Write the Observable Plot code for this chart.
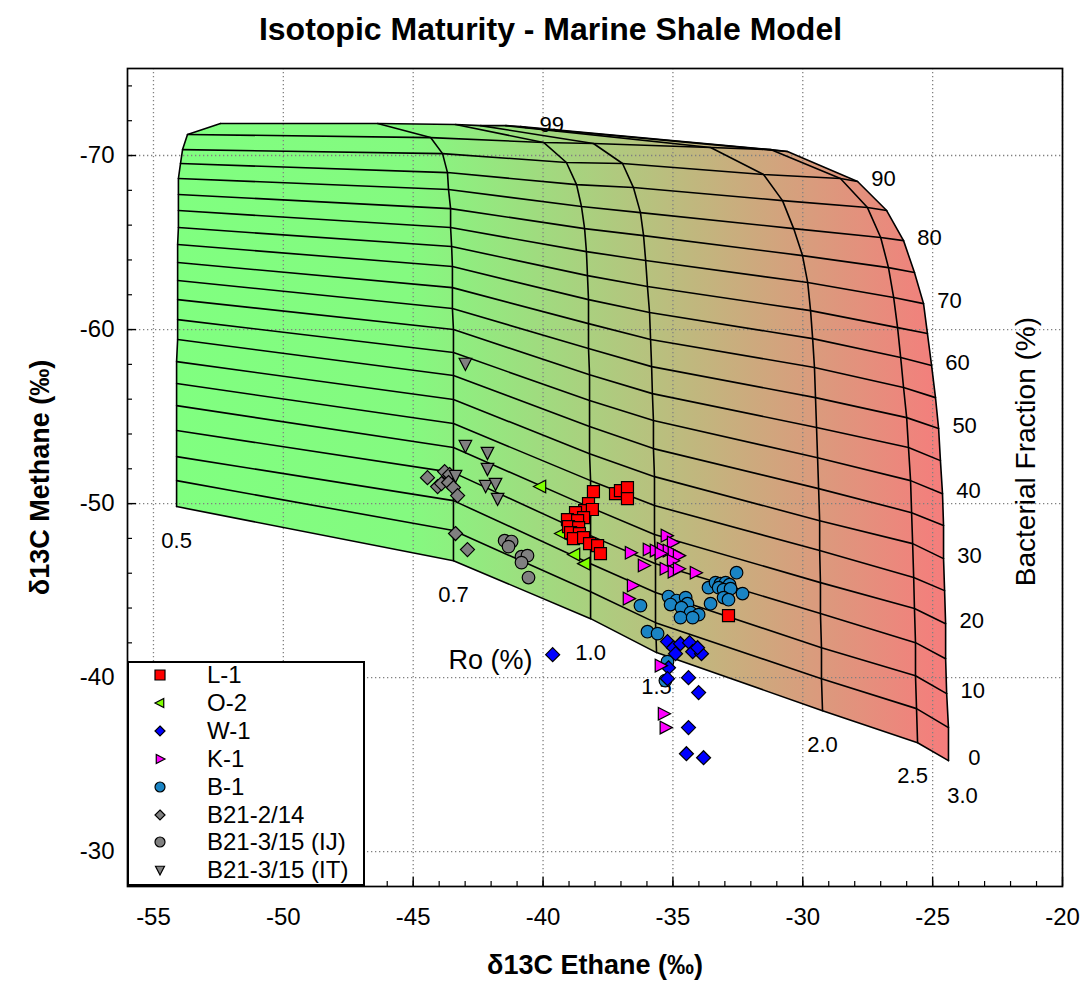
<!DOCTYPE html>
<html><head><meta charset="utf-8">
<script src="https://cdn.jsdelivr.net/npm/d3@7"></script>
<script src="https://cdn.jsdelivr.net/npm/@observablehq/plot@0.6"></script>
<style>
body{margin:0;background:#fff;font-family:Arial,"Liberation Sans",Helvetica,sans-serif;color:#000;}
#wrap{position:relative;width:1087px;height:981px;}
#title{height:56px;line-height:58px;text-align:center;font-weight:bold;font-size:32px;padding-left:14px;box-sizing:border-box;}
#legend{position:absolute;left:127px;top:661px;width:238px;height:225px;box-sizing:border-box;border:2px solid #000;background:#fff;}
.row{position:absolute;left:0;height:28px;display:flex;align-items:center;font-size:24px;white-space:nowrap;}
.row svg{flex:none;}
</style></head><body>
<div id="wrap">
<div id="title">Isotopic Maturity - Marine Shale Model</div>
<div id="chart"></div>
<div id="legend"></div>
</div>
<script>
// ---------- model grid (Ro curves x bacterial fraction) ----------
const fractions = [0,5,10,15,20,25,30,35,40,45,50,55,60,65,70,75,80,85,90,95,99];
const roLevels = [0.5,0.7,1.0,1.5,2.0,2.5,3.0];
const fractionLabels = [0,10,20,30,40,50,60,70,80,90,99];

const ethaneRo05 = [-54.11,-54.11,-54.11,-54.11,-54.11,-54.11,-54.11,-54.07,-54.07,-54.07,-54.07,-54.07,-54.07,-54.04,-54.04,-54.04,-54.04,-53.96,-53.88,-53.69,-52.42];
const methaneRo05 = [-49.83,-51.32,-52.70,-54.20,-55.63,-56.90,-58.16,-59.43,-60.57,-61.72,-62.82,-63.85,-64.89,-65.86,-66.84,-67.76,-68.68,-69.54,-70.34,-71.21,-71.84];
const ethaneRo07 = [-43.45,-43.45,-43.45,-43.45,-43.45,-43.45,-43.45,-43.45,-43.45,-43.45,-43.49,-43.49,-43.49,-43.52,-43.56,-43.56,-43.64,-43.68,-43.87,-44.33,-46.37];
const methaneRo07 = [-46.72,-48.45,-50.17,-51.78,-53.22,-54.60,-55.98,-57.36,-58.68,-60.00,-61.21,-62.41,-63.62,-64.77,-65.86,-66.95,-68.05,-69.02,-70.11,-71.03,-71.84];
const ethaneRo10 = [-38.17,-38.17,-38.17,-38.17,-38.17,-38.17,-38.21,-38.21,-38.21,-38.21,-38.25,-38.25,-38.25,-38.29,-38.33,-38.40,-38.52,-38.71,-39.10,-39.98,-43.37];
const methaneRo10 = [-43.39,-44.94,-46.55,-48.16,-49.77,-51.32,-52.87,-54.43,-55.92,-57.41,-58.91,-60.34,-61.72,-63.10,-64.48,-65.80,-67.07,-68.33,-69.60,-70.75,-71.78];
const ethaneRo15 = [-35.63,-35.67,-35.67,-35.67,-35.71,-35.71,-35.71,-35.75,-35.75,-35.79,-35.82,-35.86,-35.90,-35.98,-36.05,-36.13,-36.25,-36.52,-36.94,-38.06,-42.41];
const methaneRo15 = [-41.44,-43.16,-44.89,-46.55,-48.22,-49.89,-51.55,-53.16,-54.77,-56.32,-57.87,-59.43,-60.98,-62.47,-63.97,-65.40,-66.72,-68.16,-69.54,-70.69,-71.72];
const ethaneRo20 = [-29.24,-29.28,-29.28,-29.32,-29.32,-29.35,-29.35,-29.39,-29.43,-29.47,-29.51,-29.55,-29.62,-29.70,-29.81,-30.01,-30.35,-30.78,-31.51,-33.55,-41.44];
const methaneRo20 = [-38.10,-39.94,-41.72,-43.68,-45.46,-47.30,-49.02,-50.86,-52.64,-54.37,-56.09,-57.82,-59.48,-61.09,-62.70,-64.25,-65.80,-67.41,-68.91,-70.46,-71.72];
const ethaneRo25 = [-25.58,-25.62,-25.66,-25.66,-25.70,-25.73,-25.77,-25.81,-25.85,-25.93,-26.00,-26.12,-26.23,-26.35,-26.50,-26.70,-27.00,-27.51,-28.55,-31.24,-40.87];
const methaneRo25 = [-36.26,-38.22,-40.11,-42.01,-43.97,-45.75,-47.70,-49.48,-51.32,-53.22,-54.94,-56.67,-58.39,-60.11,-61.84,-63.56,-65.29,-67.01,-68.68,-70.34,-71.67];
const ethaneRo30 = [-24.39,-24.39,-24.46,-24.50,-24.50,-24.54,-24.58,-24.58,-24.62,-24.70,-24.77,-24.89,-25.04,-25.20,-25.35,-25.70,-26.12,-26.77,-27.89,-30.59,-40.67];
const methaneRo30 = [-35.23,-37.13,-39.08,-41.09,-43.10,-45.00,-46.84,-48.74,-50.57,-52.47,-54.31,-56.09,-57.93,-59.77,-61.49,-63.28,-65.11,-66.84,-68.51,-70.23,-71.61];

// ---------- samples ----------
const l1Ethane = [-38.06,-38.25,-38.40,-38.10,-38.75,-38.44,-39.06,-38.67,-39.02,-38.63,-38.94,-38.60,-38.83,-38.44,-38.21,-37.90,-37.79,-37.21,-37.02,-36.75,-36.75,-32.86];
const l1Methane = [-50.69,-50.00,-49.60,-49.66,-49.48,-49.20,-49.08,-49.02,-48.68,-48.62,-48.33,-48.28,-47.99,-48.05,-47.70,-47.59,-47.13,-50.57,-50.75,-50.92,-50.29,-43.56];
const o2Ethane = [-40.10,-39.29,-38.79,-38.40];
const o2Methane = [-50.98,-48.28,-47.07,-46.55];
const w1Ethane = [-39.63,-35.21,-34.98,-34.71,-34.36,-34.90,-34.24,-33.90,-34.05,-35.17,-34.40,-34.01,-34.40,-34.48,-33.82,-35.21];
const w1Methane = [-41.32,-42.07,-41.72,-41.95,-42.01,-41.38,-41.49,-41.38,-41.72,-40.57,-40.00,-39.14,-37.13,-35.63,-35.40,-39.94];
const k1Ethane = [-35.25,-35.01,-36.63,-35.94,-35.67,-35.40,-35.17,-34.98,-34.78,-35.48,-35.01,-36.13,-35.29,-34.98,-34.78,-34.13,-36.55,-36.71,-35.48,-35.36,-35.29];
const k1Methane = [-48.16,-47.76,-47.18,-47.36,-47.30,-47.41,-47.30,-47.18,-47.01,-47.13,-46.72,-46.44,-46.26,-46.09,-46.26,-46.03,-45.29,-44.54,-40.69,-37.93,-37.13];
const b1Ethane = [-32.55,-33.63,-33.36,-33.17,-32.97,-32.82,-33.24,-33.05,-32.78,-32.32,-33.05,-32.86,-33.55,-35.17,-34.86,-34.51,-34.44,-35.09,-34.67,-34.32,-34.01,-34.71,-34.24,-36.25,-35.98,-35.59,-35.21,-35.29];
const b1Methane = [-46.03,-45.17,-45.46,-45.40,-45.46,-45.34,-45.17,-45.06,-45.11,-44.83,-44.60,-44.48,-44.25,-44.66,-44.43,-44.60,-44.25,-44.20,-44.02,-43.74,-43.62,-43.45,-43.45,-44.14,-42.64,-42.53,-40.92,-39.83];
const b21214Ethane = [-44.45,-44.06,-43.91,-43.79,-43.60,-43.64,-43.45,-43.29,-43.37,-42.91];
const b21214Methane = [-51.49,-50.98,-51.15,-51.84,-51.67,-51.21,-50.92,-50.46,-48.28,-47.36];
const b21315ijEthane = [-41.48,-41.21,-41.33,-40.83,-40.60,-40.83,-40.56];
const b21315ijMethane = [-47.87,-47.82,-47.53,-46.95,-47.01,-46.61,-45.75];
const b21315itEthane = [-42.99,-42.99,-42.14,-42.14,-43.37,-42.21,-41.83,-41.75];
const b21315itMethane = [-58.05,-53.33,-52.93,-52.01,-51.61,-51.03,-51.15,-50.29];

const seriesNames = ["L-1","O-2","W-1","K-1","B-1","B21-2/14","B21-3/15 (IJ)","B21-3/15 (IT)"];
const seriesColors = ["#ff0000","#80ff00","#0000ff","#ff00ff","#1a84c4","#808080","#808080","#808080"];
const seriesShapes = ["square","triangleLeft","diamond","triangleRight","circle","diamond","circle","triangleDown"];

const xTicks = [-55,-50,-45,-40,-35,-30,-25,-20];
const yTicks = [-70,-60,-50,-40,-30];
const annotEthane = [-42.02, -21.42];
const annotMethane = [-40.98, -52.99];

// ---------- assemble ----------
const roEthane = [ethaneRo05, ethaneRo07, ethaneRo10, ethaneRo15, ethaneRo20, ethaneRo25, ethaneRo30];
const roMethane = [methaneRo05, methaneRo07, methaneRo10, methaneRo15, methaneRo20, methaneRo25, methaneRo30];
const nodes = [];
roLevels.forEach((ro, j) => fractions.forEach((f, i) => nodes.push({ro, f, i, j, ethane: roEthane[j][i], methane: roMethane[j][i]})));
const lastRo = roLevels.length - 1, topIdx = fractions.length - 1;
const outline = [
  ...roLevels.map((_, j) => [roEthane[j][0], roMethane[j][0]]),
  ...fractions.map((_, i) => [roEthane[lastRo][i], roMethane[lastRo][i]]),
  ...roLevels.map((_, j) => [roEthane[lastRo - j][topIdx], roMethane[lastRo - j][topIdx]]),
  ...fractions.map((_, i) => [roEthane[0][topIdx - i], roMethane[0][topIdx - i]])
];

function shapePath(kind, ctx, r) {
  switch (kind) {
    case "square": ctx.rect(-r, -r, 2 * r, 2 * r); break;
    case "circle": ctx.moveTo(r, 0); ctx.arc(0, 0, r, 0, 2 * Math.PI); break;
    case "diamond": ctx.moveTo(0, -r); ctx.lineTo(r, 0); ctx.lineTo(0, r); ctx.lineTo(-r, 0); ctx.closePath(); break;
    case "triangleRight": ctx.moveTo(r, 0); ctx.lineTo(-0.75 * r, -0.9 * r); ctx.lineTo(-0.75 * r, 0.9 * r); ctx.closePath(); break;
    case "triangleLeft": ctx.moveTo(-r, 0); ctx.lineTo(0.75 * r, -0.9 * r); ctx.lineTo(0.75 * r, 0.9 * r); ctx.closePath(); break;
    case "triangleDown": ctx.moveTo(0, r); ctx.lineTo(-0.9 * r, -0.75 * r); ctx.lineTo(0.9 * r, -0.75 * r); ctx.closePath(); break;
  }
}
function makeSymbol(kind) {
  return {draw(ctx, size) { shapePath(kind, ctx, Math.sqrt(size / Math.PI)); }};
}
const symbolRadius = {square: 6, circle: 6.3, diamond: 7, triangleRight: 7, triangleLeft: 7, triangleDown: 7};

const seriesData = [
  [l1Ethane, l1Methane], [o2Ethane, o2Methane], [w1Ethane, w1Methane], [k1Ethane, k1Methane],
  [b1Ethane, b1Methane], [b21214Ethane, b21214Methane], [b21315ijEthane, b21315ijMethane], [b21315itEthane, b21315itMethane]
].map(([e, m]) => e.map((v, i) => ({ethane: v, methane: m[i]})));

const drawOrder = [5, 7, 6, 4, 1, 0, 2, 3];
const dotMarks = drawOrder.map(k => Plot.dot(seriesData[k], {
  x: "ethane", y: "methane", symbol: makeSymbol(seriesShapes[k]), r: symbolRadius[seriesShapes[k]],
  fill: seriesColors[k], stroke: "black", strokeWidth: 1.2
}));

const W = 1087, H = 925, mL = 127, mR = 25, mT = 12, mB = 95;
const plotW = W - mL - mR, plotH = H - mT - mB;
const xMinor = d3.range(-55, -20, 1);
const yMinor = d3.range(-74, -28, 2);
const roNodes = nodes.filter(d => d.i === 0);
const fracNodes = nodes.filter(d => d.j === lastRo && fractionLabels.includes(d.f));

const svg = Plot.plot({
  width: W, height: H, marginLeft: mL, marginRight: mR, marginTop: mT, marginBottom: mB,
  style: {fontFamily: 'Arial, "Liberation Sans", Helvetica, sans-serif', fontSize: "24px", color: "black", background: "white"},
  x: {domain: [-56, -20]},
  y: {domain: [-75, -28], reverse: true},
  marks: [
    Plot.line(outline, {x: d => d[0], y: d => d[1], fill: "url(#surfGrad)", stroke: "none"}),
    Plot.gridX(xTicks, {stroke: "#808080", strokeOpacity: 1, strokeWidth: 1.3, strokeDasharray: "1.3,2.7"}),
    Plot.gridY(yTicks, {stroke: "#808080", strokeOpacity: 1, strokeWidth: 1.3, strokeDasharray: "1.3,2.7"}),
    Plot.line(nodes, {x: "ethane", y: "methane", z: "ro", stroke: "black", strokeWidth: 1.6}),
    Plot.line(nodes, {x: "ethane", y: "methane", z: "f", stroke: "black", strokeWidth: 1.6}),
    Plot.text(fracNodes, {x: "ethane", y: "methane", text: d => String(d.f), dx: 26, dy: -3, fontSize: 22}),
    Plot.text(roNodes.filter(d => d.ro < 2.5), {x: "ethane", y: "methane", text: d => d.ro.toFixed(1), dy: 34, fontSize: 22}),
    Plot.text(roNodes.filter(d => d.ro === 2.5), {x: "ethane", y: "methane", text: d => d.ro.toFixed(1), dx: -5, dy: 33, fontSize: 22}),
    Plot.text(roNodes.filter(d => d.ro === 3.0), {x: "ethane", y: "methane", text: d => d.ro.toFixed(1), dx: 14, dy: 35, fontSize: 22}),
    Plot.text([0], {x: () => annotEthane[0], y: () => annotMethane[0], text: () => "Ro (%)", fontSize: 27}),
    Plot.text([0], {x: () => annotEthane[1], y: () => annotMethane[1], text: () => "Bacterial Fraction (%)", rotate: -90, fontSize: 28}),
    ...dotMarks,
    Plot.tickX(xMinor, {x: d => d, insetTop: plotH - 5, stroke: "black", strokeWidth: 1.2}),
    Plot.tickX(xTicks, {x: d => d, insetTop: plotH - 9, stroke: "black", strokeWidth: 1.4}),
    Plot.tickY(yMinor, {y: d => d, insetRight: plotW - 5, stroke: "black", strokeWidth: 1.2}),
    Plot.tickY(yTicks, {y: d => d, insetRight: plotW - 9, stroke: "black", strokeWidth: 1.4}),
    Plot.frame({stroke: "black", strokeWidth: 1.7}),
    Plot.axisX({ticks: xTicks, tickSize: 0, tickPadding: 21, tickFormat: d => String(d), label: null}),
    Plot.axisY({ticks: yTicks, tickSize: 0, tickPadding: 13, tickFormat: d => String(d), label: null}),
    Plot.text(["δ13C Ethane (‰)"], {frameAnchor: "bottom", dy: 79, lineAnchor: "middle", textAnchor: "middle", fontWeight: "bold", fontSize: 27}),
    Plot.text(["δ13C Methane (‰)"], {frameAnchor: "left", dx: -87, rotate: -90, textAnchor: "middle", lineAnchor: "middle", fontWeight: "bold", fontSize: 27})
  ]
});

const defs = d3.select(svg).insert("defs", ":first-child");
const grad = defs.append("linearGradient").attr("id", "surfGrad").attr("x1", 0).attr("x2", 1).attr("y1", 0).attr("y2", 0);
grad.append("stop").attr("offset", 0).attr("stop-color", "#80ff80");
grad.append("stop").attr("offset", 0.3).attr("stop-color", "#84fa80");
grad.append("stop").attr("offset", 1).attr("stop-color", "#f67c7c");
document.getElementById("chart").appendChild(svg);

// ---------- legend ----------
const legend = d3.select("#legend");
seriesNames.forEach((name, k) => {
  const row = legend.append("div").attr("class", "row").style("top", (-2 + k * 27.9) + "px");
  const s = row.append("svg").attr("width", 78).attr("height", 28);
  const r = 5;
  s.append("path")
    .attr("transform", "translate(31,14)")
    .attr("d", d3.symbol(makeSymbol(seriesShapes[k]), Math.PI * r * r)())
    .attr("fill", seriesColors[k]).attr("stroke", "black").attr("stroke-width", 1.2);
  row.append("span").text(name);
});
</script>
</body></html>
